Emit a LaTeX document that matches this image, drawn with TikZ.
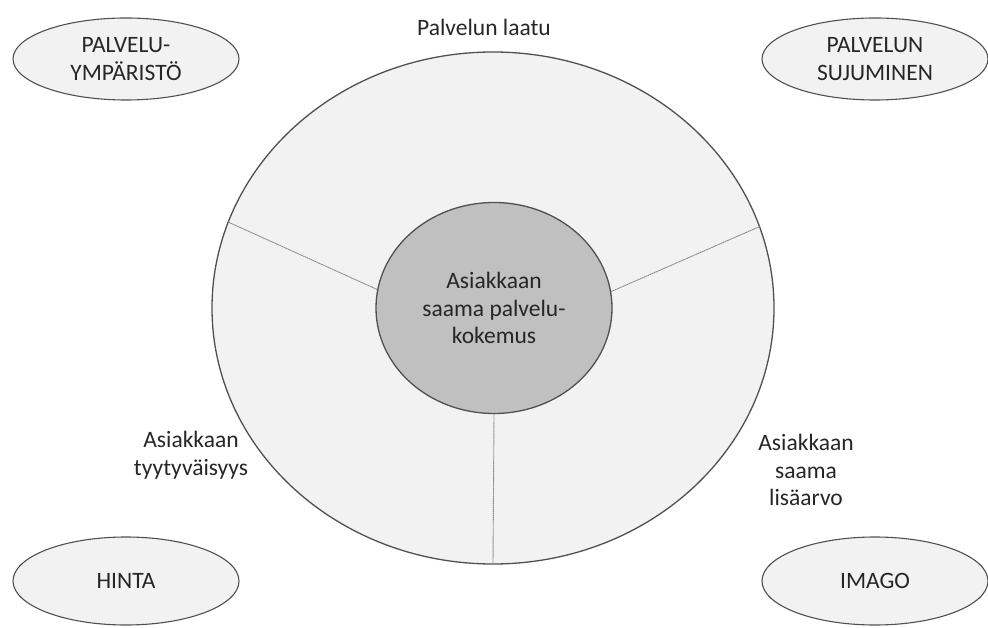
\documentclass[tikz,border=0pt]{standalone}
\usepackage{fontspec}
\setmainfont{Carlito}
\usetikzlibrary{shapes.geometric}
\definecolor{ringfill}{HTML}{F2F2F2}
\definecolor{corefill}{HTML}{C0C0C0}
\definecolor{rim}{HTML}{505050}
\definecolor{spoke}{HTML}{8A8A8A}
\definecolor{ink}{HTML}{262626}
\begin{document}
\begin{tikzpicture}[x=1pt,y=-1pt,
  txt/.style={font=\fontsize{23.5}{27.5}\selectfont, text=ink, align=center, inner sep=0pt},
  ring/.style={ellipse, draw=rim, line width=1.3pt, fill=ringfill, inner sep=0pt},
  factor/.style={ellipse, draw=rim, line width=1.1pt, fill=ringfill, inner sep=0pt,
    minimum width=226pt, minimum height=82pt, txt},
  spokeline/.style={draw=spoke, line width=0.9pt, dash pattern=on 1.6pt off 0.5pt}]
\useasboundingbox (0,0) rectangle (988,628);

% outer ring and its core
\node[ring, minimum width=562pt, minimum height=512pt] (outer) at (493,308) {};
\node[ring, fill=corefill, minimum width=236pt, minimum height=211pt, txt] (core) at (494,308)
  {Asiakkaan\\saama palvelu-\\kokemus};

% the three sectors
\draw[spokeline] (core.171.3) -- (outer.162.35);
\draw[spokeline] (core.8.8) -- (outer.17.65);
\draw[spokeline] (core.south) -- (outer.south);

% sector labels
\node[txt] (laatu) at (484,27) {Palvelun laatu};
\node[txt] (tyyty) at (191,455) {Asiakkaan\\tyytyväisyys};
\node[txt] (lisa) at (806,470) {Asiakkaan\\saama\\lisäarvo};

% corner factors
\node[factor] (ymp) at (126,59) {PALVELU-\\YMPÄRISTÖ};
\node[factor] (suju) at (875,59) {PALVELUN\\SUJUMINEN};
\node[factor, minimum height=88pt] (hinta) at (126,581) {HINTA};
\node[factor, minimum height=88pt] (imago) at (875,581) {IMAGO};
\end{tikzpicture}
\end{document}
